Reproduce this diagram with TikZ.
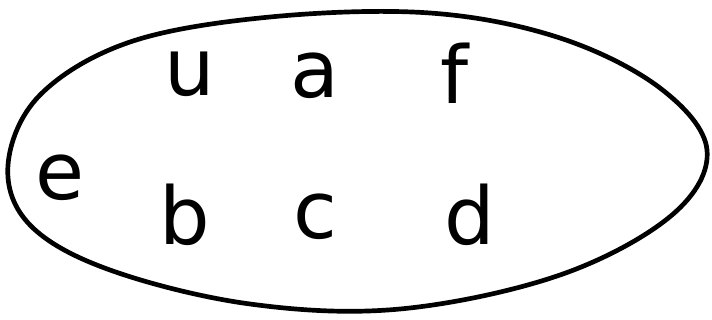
\documentclass[tikz,border=0pt]{standalone}
\usepackage{fontspec}
\setsansfont{DejaVu Sans}
\begin{document}
\begin{tikzpicture}[x=0.03cm, y=-0.03cm,
    letter/.style={font=\sffamily\fontsize{68}{68}\selectfont, inner sep=0pt, anchor=base},
    blob/.style={draw=black, line width=4pt, line join=round}
]
\useasboundingbox (0,0) rectangle (712,320);

% outline
\draw[blob] plot[smooth cycle, tension=0.6] coordinates {
    (8,165) (40,95) (130,42) (270,17) (430,13) (560,38) (660,88)
    (707,150) (672,215) (560,275) (400,309) (250,304) (110,270) (30,225)};

% top row
\node[letter] (u) at (190,96) {u};
\node[letter] (a) at (315,98) {a};
\node[letter] (f) at (455,104) {f};

% bottom row
\node[letter] (e) at (60,200) {e};
\node[letter] (b) at (185,244) {b};
\node[letter] (c) at (315,238) {c};
\node[letter] (d) at (470,244) {d};

\end{tikzpicture}
\end{document}
